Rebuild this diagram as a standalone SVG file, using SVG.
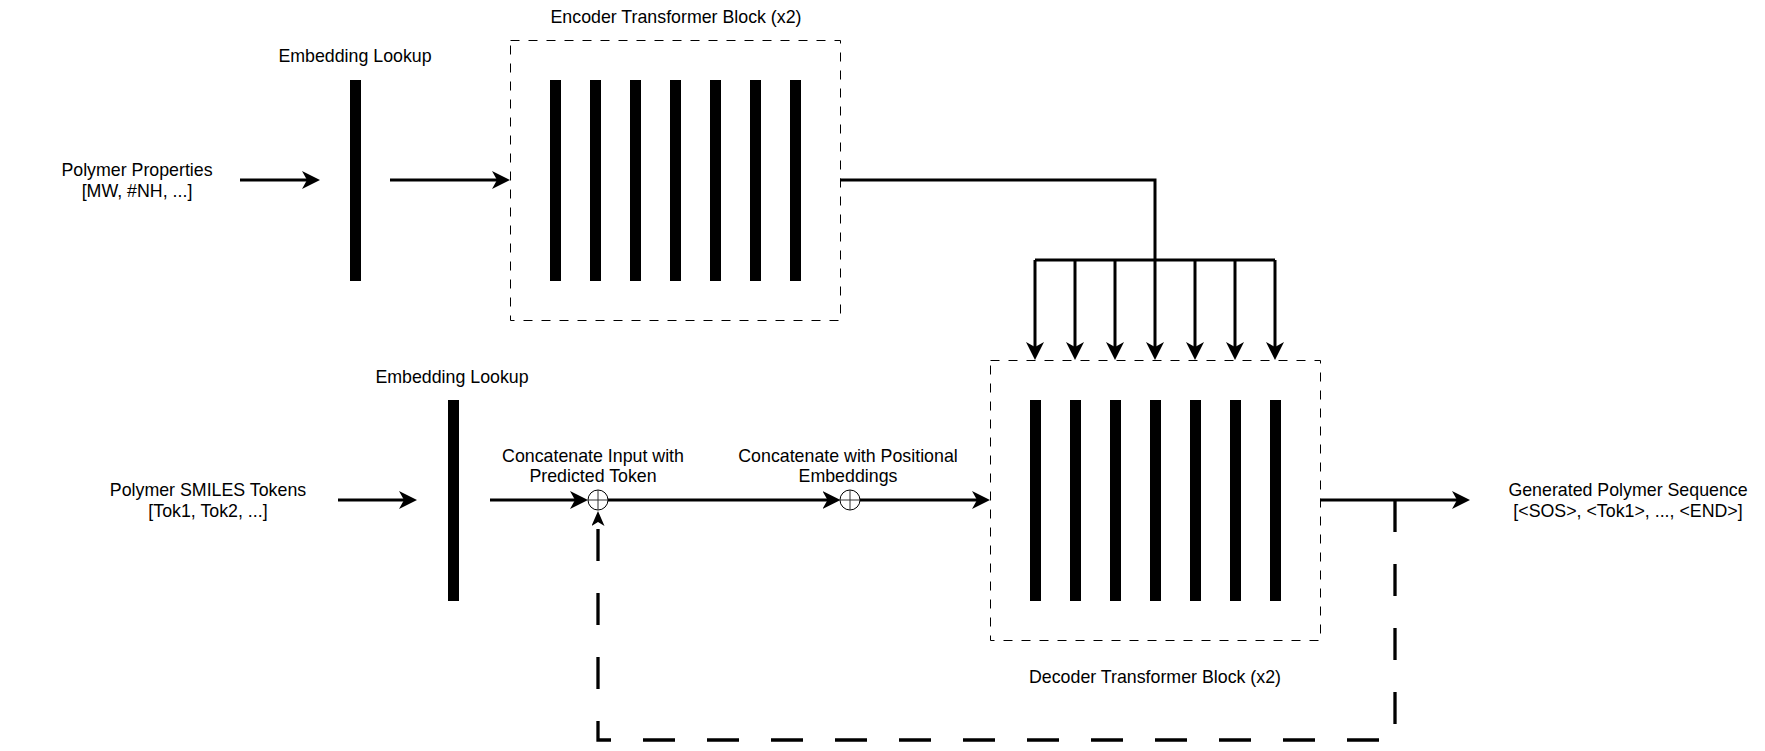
<svg xmlns="http://www.w3.org/2000/svg" width="1765" height="751" viewBox="0 0 1765 751">
<style>
text{font-family:"Liberation Sans",Arial,Helvetica,sans-serif;font-size:17.8px;fill:#000;text-anchor:middle}
.bar{fill:#000}
.block{fill:none;stroke:#000;stroke-width:1;stroke-dasharray:9 9}
.ln{fill:none;stroke:#000;stroke-width:3}
.arr{fill:none;stroke:#000;stroke-width:3;marker-end:url(#ah)}
.fb{fill:none;stroke:#000;stroke-width:3.3;stroke-dasharray:32 32;marker-end:url(#ahs)}
.op{fill:#fff;stroke:#000;stroke-width:1}
.opx{stroke:#333;stroke-width:1}
</style>
<defs>
<marker id="ah" markerUnits="userSpaceOnUse" markerWidth="18" markerHeight="18" refX="8" refY="9" orient="auto">
<path d="M0,0 L18,9 L0,18 L5,9 Z" fill="#000"/>
</marker>
<marker id="ahs" markerUnits="userSpaceOnUse" markerWidth="16" markerHeight="13" refX="6" refY="6.5" orient="auto">
<path d="M0,0 L15,6.5 L0,13 L4,6.5 Z" fill="#000"/>
</marker>
</defs>
<rect width="1765" height="751" fill="#fff"/>

<g id="polymer-properties">
<text x="137" y="176">Polymer Properties</text>
<text x="137" y="197">[MW, #NH, ...]</text>
</g>

<g id="embedding-lookup-1">
<text x="355" y="62">Embedding Lookup</text>
<rect class="bar" x="350" y="80" width="11" height="201"/>
</g>

<g id="encoder-block">
<text x="676" y="23">Encoder Transformer Block (x2)</text>
<rect class="block" x="510.5" y="40.5" width="330" height="280"/>
<rect class="bar" x="550" y="80" width="11" height="201"/>
<rect class="bar" x="590" y="80" width="11" height="201"/>
<rect class="bar" x="630" y="80" width="11" height="201"/>
<rect class="bar" x="670" y="80" width="11" height="201"/>
<rect class="bar" x="710" y="80" width="11" height="201"/>
<rect class="bar" x="750" y="80" width="11" height="201"/>
<rect class="bar" x="790" y="80" width="11" height="201"/>
</g>

<g id="polymer-smiles-tokens">
<text x="208" y="496">Polymer SMILES Tokens</text>
<text x="208" y="517">[Tok1, Tok2, ...]</text>
</g>

<g id="embedding-lookup-2">
<text x="452" y="383">Embedding Lookup</text>
<rect class="bar" x="448" y="400" width="11" height="201"/>
</g>

<g id="decoder-block">
<rect class="block" x="990.5" y="360.5" width="330" height="280"/>
<rect class="bar" x="1030" y="400" width="11" height="201"/>
<rect class="bar" x="1070" y="400" width="11" height="201"/>
<rect class="bar" x="1110" y="400" width="11" height="201"/>
<rect class="bar" x="1150" y="400" width="11" height="201"/>
<rect class="bar" x="1190" y="400" width="11" height="201"/>
<rect class="bar" x="1230" y="400" width="11" height="201"/>
<rect class="bar" x="1270" y="400" width="11" height="201"/>
<text x="1155" y="683">Decoder Transformer Block (x2)</text>
</g>

<g id="generated-sequence">
<text x="1628" y="496">Generated Polymer Sequence</text>
<text x="1628" y="517">[&lt;SOS&gt;, &lt;Tok1&gt;, ..., &lt;END&gt;]</text>
</g>

<g id="connectors">
<path class="arr" d="M240,180 H310"/>
<path class="arr" d="M390,180 H500"/>
<path class="arr" d="M840,180 H1155 V350"/>
<path class="ln" d="M1035,260 H1275"/>
<path class="arr" d="M1035,260 V350"/>
<path class="arr" d="M1075,260 V350"/>
<path class="arr" d="M1115,260 V350"/>
<path class="arr" d="M1195,260 V350"/>
<path class="arr" d="M1235,260 V350"/>
<path class="arr" d="M1275,260 V350"/>
<path class="arr" d="M338,500 H407"/>
<path class="arr" d="M490,500 H578"/>
<path class="arr" d="M607.5,500 H830.5"/>
<path class="arr" d="M859.5,500 H980"/>
<path class="arr" d="M1320.5,500 H1460"/>
<path class="fb" d="M1395,500 V740 H598 V520"/>
</g>

<g id="concat-input">
<text x="593" y="461.5">Concatenate Input with</text>
<text x="593" y="482">Predicted Token</text>
<circle class="op" cx="598" cy="500" r="10"/>
<path class="opx" d="M598,490 V510 M588,500 H608"/>
</g>

<g id="concat-positional">
<text x="848" y="461.5">Concatenate with Positional</text>
<text x="848" y="482">Embeddings</text>
<circle class="op" cx="850" cy="500" r="10"/>
<path class="opx" d="M850,490 V510 M840,500 H860"/>
</g>
</svg>
